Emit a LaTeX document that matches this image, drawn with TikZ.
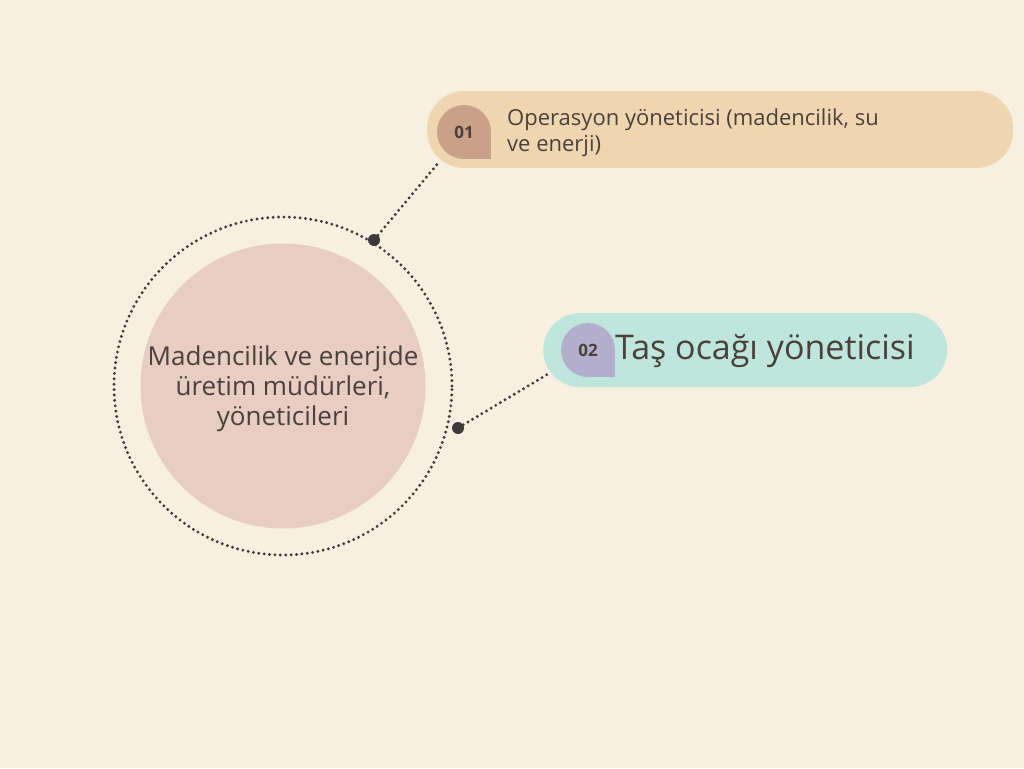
\documentclass[tikz,border=0pt]{standalone}
\usepackage{fontspec}
\setmainfont{Open Sans}
\usetikzlibrary{positioning}

\definecolor{bgcream}{HTML}{F7F0E1}
\definecolor{pillsand}{HTML}{F0D6B0}
\definecolor{pillmint}{HTML}{BFE6DD}
\definecolor{badgeclay}{HTML}{C9A088}
\definecolor{badgelilac}{HTML}{B2AECB}
\definecolor{hubrose}{HTML}{E8CDC2}
\definecolor{inkgray}{HTML}{3E3A39}
\definecolor{textbrown}{HTML}{4A403C}

\tikzset{
  pillbox/.style={rectangle, rounded corners=37pt, inner sep=0pt, anchor=west},
  badge/.style={circle, minimum size=54pt, inner sep=0pt, text=textbrown,
    font=\fontsize{17}{17}\selectfont\bfseries},
  hubdot/.style={circle, fill=inkgray, minimum size=12pt, inner sep=0pt},
  dotline/.style={draw=inkgray, line width=3.2pt, line cap=round,
    dash pattern=on 0pt off 5.4pt},
  itemtext/.style={text=textbrown, align=left, inner sep=0pt},
}

\begin{document}
\begin{tikzpicture}[x=1pt, y=-1pt]
    \fill[bgcream] (0,0) rectangle (1024,768);
    \useasboundingbox (0,0) rectangle (1024,768);

    % center
    \node[circle, dotline, minimum size=338pt, inner sep=0pt] (ring) at (283,386) {};
    \node[circle, fill=hubrose, minimum size=285pt, inner sep=0pt] (hub) at (283,386) {};
    \node[text=textbrown, align=center, font=\fontsize{26}{30}\selectfont] (hubtext) at (283,389)
      {Madencilik ve enerjide\\üretim müdürleri,\\yöneticileri};

    % items
    \node[pillbox, fill=pillsand, minimum width=586pt, minimum height=77pt] (pill1) at (427,129.5) {};
    \fill[badgeclay] (464,132) rectangle ++(27,27);
    \node[badge, fill=badgeclay] (badge1) at (464,132) {01};
    \node[itemtext, font=\fontsize{22}{26}\selectfont, anchor=west] (item1) at (507,133)
      {Operasyon yöneticisi (madencilik, su\\ve enerji)};

    \node[pillbox, fill=pillmint, minimum width=404pt, minimum height=74pt] (pill2) at (543,350) {};
    \fill[badgelilac] (588,350) rectangle ++(27,27);
    \node[badge, fill=badgelilac] (badge2) at (588,350) {02};
    \node[itemtext, font=\fontsize{34}{38}\selectfont, anchor=west] (item2) at (615,351)
      {Taş ocağı yöneticisi};

    % connectors
    \node[hubdot] (dot1) at (374,240) {};
    \node[hubdot] (dot2) at (458,428) {};
    \path[dotline, shorten >=40pt] (dot1) -- (badge1.center);
    \path[dotline, shorten >=44pt] (dot2) -- (badge2.center);
\end{tikzpicture}
\end{document}
